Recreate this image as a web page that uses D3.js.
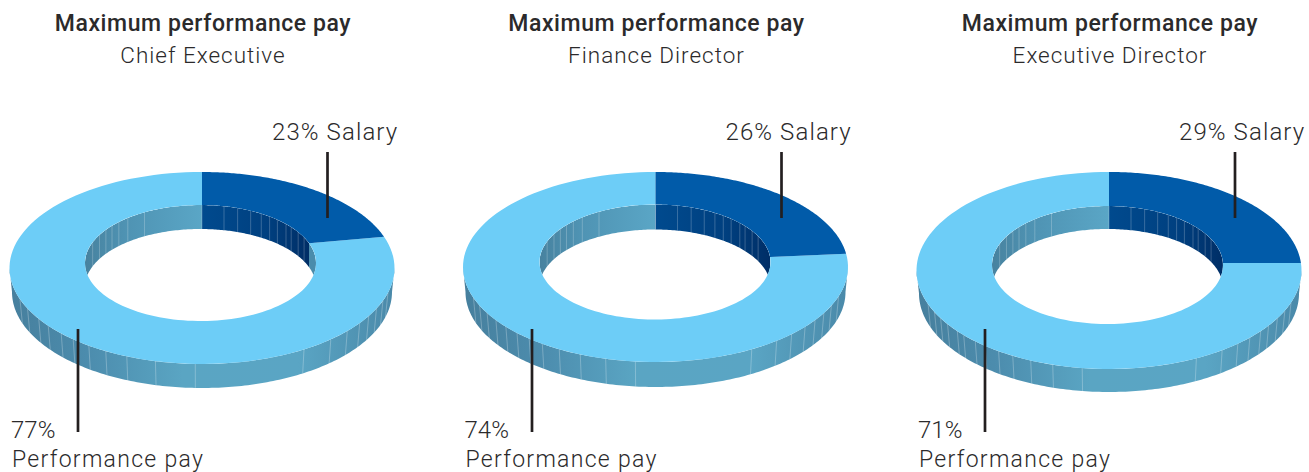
<!DOCTYPE html>
<html><head><meta charset="utf-8">
<script src="https://cdn.jsdelivr.net/npm/d3@7/dist/d3.min.js"></script>
<style>html,body{margin:0;padding:0;background:#fff}svg{display:block}
text{font-family:Roboto,sans-serif;fill:#2b2a2b}</style></head><body>
<div id="c"></div>
<script>
const chartTitle = "Maximum performance pay";
const roles = ["Chief Executive", "Finance Director", "Executive Director"];
const salaryShare = [23, 26, 29];
const performanceShare = [77, 74, 71];
const salaryLabel = "Salary";
const performanceLabel = "Performance pay";

// Facet seams on the extruded walls, degrees either side of the front/back of each ring
const outerSeamsLeft = [[2,14,23,30,36,42,47,53,58,65,71],[6,15,23,30,36,41,46,51,56,61,66,71],[8,17,24,30,35,40,44,49,52,57,61,65,70]];
const outerSeamsRight = [[32,42,49,55,60,65,70,75],[30,39,45,51,56,61,66,72],[27,36,42,47,52,56,61,66,71]];
const innerSeamsRight = [0,11,18,25,31,36,41,47,51,57,63];
const innerSeamsLeft = [29,39,45,50,55,61,69];

const W = 1309, H = 472;
const layout = [
  {cx:202,  rx:192.5, cy:268,   ry:96,   icx:200.5, irx:115.5, icy:263, iry:58, depth:24, upX:327.5,  lowX:78},
  {cx:655.5,rx:192.5, cy:267,   ry:95,   icx:655,   irx:115.5, icy:262, iry:57.5, depth:25, upX:781.5, lowX:532},
  {cx:1109, rx:192.5, cy:270.5, ry:98.5, icx:1107.5,irx:115.5, icy:265, iry:59, depth:23, upX:1235,  lowX:985}
];
const xOff = [0, 453.5, 907];

// The artwork's tilted perspective compresses angles unevenly: map true pie angles to drawn ones
const toRad = Math.PI/180;
const drawnOuter = d3.scaleLinear().domain([0,23,26,29,100].map(v=>v*3.6*toRad)).range([0,71,82,85.6,360].map(v=>v*toRad));
const drawnInner = d3.scaleLinear().domain([0,23,26,29,100].map(v=>v*3.6*toRad)).range([0,70,85,88,360].map(v=>v*toRad));

const svg = d3.select("#c").append("svg").attr("width",W).attr("height",H);
const defs = svg.append("defs");
function grad(id, stops){
  const g = defs.append("linearGradient").attr("id",id).attr("x1",0).attr("x2",1).attr("y1",0).attr("y2",0);
  stops.forEach(([o,c])=>g.append("stop").attr("offset",o).attr("stop-color",c));
}
grad("wallOuter",[[0,"#467f9d"],[0.2,"#4c8cad"],[0.45,"#5aa5c3"],[0.75,"#5aa5c4"],[1,"#4a89a9"]]);
grad("wallInnerLight",[[0,"#47829f"],[0.35,"#4f93b3"],[1,"#5aa6c6"]]);
grad("wallInnerDark",[[0,"#004a8e"],[0.6,"#004080"],[1,"#002e66"]]);

const pie = d3.pie().sort(null).value(d=>d);
const line = d3.line().x(d=>d[0]).y(d=>d[1]);
const pt = (cx,cy,rx,ry,a)=>[cx+rx*Math.sin(a), cy-ry*Math.cos(a)];
const samples = (a0,a1,n=90)=>d3.range(n+1).map(i=>a0+(a1-a0)*i/n);

layout.forEach((L,i)=>{
  const g = svg.append("g");
  const arcs = pie([salaryShare[i], performanceShare[i]]);
  const aOut = drawnOuter(arcs[0].endAngle), aIn = drawnInner(arcs[0].endAngle);
  // inner ellipse sits slightly off-centre; start the split where it meets the vertical seam
  const a0In = Math.asin((L.cx-L.icx)/L.irx);
  const outer = a=>pt(L.cx,L.cy,L.rx,L.ry,a);
  const inner = a=>pt(L.icx,L.icy,L.irx,L.iry,a);
  const innerLow = a=>pt(L.icx,L.icy+L.depth,L.irx,L.iry,a);
  const outerLow = a=>pt(L.cx,L.cy+L.depth,L.rx-2.5,L.ry,a);

  const clipId = "hole"+i;
  defs.append("clipPath").attr("id",clipId).append("path")
    .attr("d",line(samples(0,2*Math.PI,180).map(inner))+"Z");

  // inner wall, seen through the hole
  const wall = g.append("g").attr("clip-path",`url(#${clipId})`);
  const band = (a0,a1)=>line(samples(a0,a1).map(inner).concat(samples(a0,a1).reverse().map(innerLow)))+"Z";
  wall.append("path").attr("d",band(-Math.PI/2,a0In)).attr("fill","url(#wallInnerLight)");
  wall.append("path").attr("d",band(a0In,aIn)).attr("fill","url(#wallInnerDark)");
  if(aIn<Math.PI/2) wall.append("path").attr("d",band(aIn,Math.PI/2)).attr("fill","#4a8cab");
  const seam = (a,fn1,fn2,par,op)=>{const p=fn1(a),q=fn2(a);
    par.append("line").attr("x1",p[0]).attr("y1",p[1]).attr("x2",q[0]).attr("y2",q[1])
      .attr("stroke","#fff").attr("stroke-opacity",op).attr("stroke-width",0.8);};
  innerSeamsRight.filter(d=>d*toRad<aIn).forEach(d=>seam(a0In+d*toRad,inner,innerLow,wall,0.28));
  innerSeamsLeft.forEach(d=>seam(-d*toRad,inner,innerLow,wall,0.28));

  // outer wall
  const aL=Math.PI/2, aR=3*Math.PI/2;
  g.append("path").attr("d",line(samples(aL,aR,180).map(outer).concat(samples(aL,aR,180).reverse().map(outerLow)))+"Z")
    .attr("fill","url(#wallOuter)");
  outerSeamsLeft[i].forEach(d=>seam(Math.PI+d*toRad,outer,outerLow,g,0.32));
  outerSeamsRight[i].forEach(d=>seam(Math.PI-d*toRad,outer,outerLow,g,0.32));

  // top surface
  const top = (a0o,a1o,a0i,a1i)=>line(samples(a0o,a1o,120).map(outer).concat(samples(a0i,a1i,120).reverse().map(inner)))+"Z";
  g.append("path").attr("d",top(aOut,2*Math.PI,aIn,2*Math.PI+a0In)).attr("fill","#6dcdf7");
  g.append("path").attr("d",top(0,aOut,a0In,aIn)).attr("fill","#015ba9");

  // leader lines
  [[L.upX,152,218],[L.lowX,329,432]].forEach(([x,y1,y2])=>{
    g.append("line").attr("x1",x).attr("x2",x).attr("y1",y1).attr("y2",y2)
      .attr("stroke","#231f20").attr("stroke-width",2.7);
  });

  // text
  const tx = [203,656.5,1110][i];
  g.append("text").attr("x",tx).attr("y",31).attr("text-anchor","middle")
    .attr("font-size",23).attr("font-weight",500).attr("letter-spacing","0.58px").text(chartTitle);
  g.append("text").attr("x",tx).attr("y",63).attr("text-anchor","middle")
    .attr("font-size",22.5).attr("font-weight",300).attr("letter-spacing","1px").text(roles[i]);
  g.append("text").attr("x",272+xOff[i]).attr("y",140)
    .attr("font-size",24).attr("font-weight",300).attr("letter-spacing","1.1px").text(`${salaryShare[i]}% ${salaryLabel}`);
  g.append("text").attr("x",11+xOff[i]).attr("y",438)
    .attr("font-size",24).attr("font-weight",300).text(`${performanceShare[i]}%`);
  g.append("text").attr("x",12+xOff[i]).attr("y",466.5)
    .attr("font-size",23).attr("font-weight",300).attr("letter-spacing","1.3px").text(performanceLabel);
});
</script></body></html>
